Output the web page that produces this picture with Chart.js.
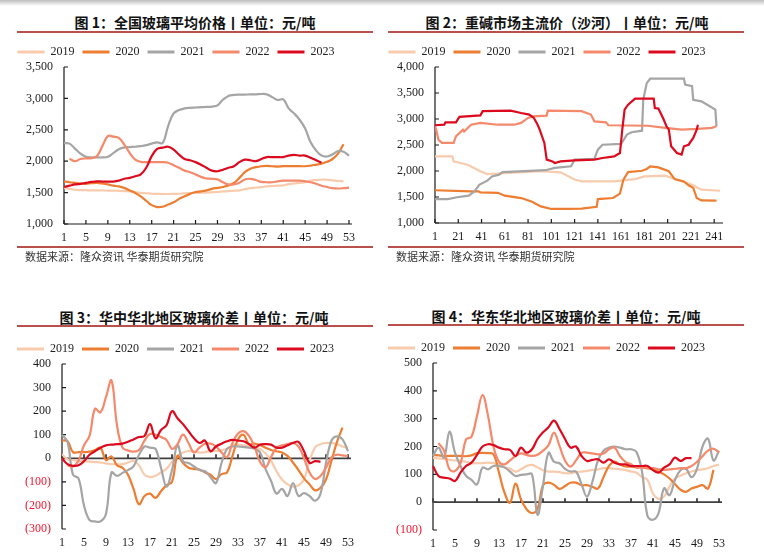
<!DOCTYPE html>
<html>
<head>
<meta charset="utf-8">
<script src="https://cdn.jsdelivr.net/npm/chart.js@4.4.0/dist/chart.umd.min.js"></script>
<style>
  body { margin: 0; width: 764px; height: 555px; background: #fff; position: relative; overflow: hidden; font-family: "Noto Sans CJK SC", sans-serif; }
  .shade { position: absolute; left: 0; top: 0; width: 764px; height: 6px; background: linear-gradient(#bdbdbd, #fff); }
  .title { position: absolute; width: 380px; line-height: 16px; font-weight: bold; font-size: 14px; color: #111; text-align: center; white-space: nowrap; }
  .rule { position: absolute; height: 2px; width: 356px; background: #b9504c; }
  .src { position: absolute; font-size: 11px; line-height: 15px; color: #333; white-space: nowrap; }
  canvas { position: absolute; }
</style>
</head>
<body>
<div class="shade"></div>

<div class="title" style="left:5px;top:14px">图 1：全国玻璃平均价格丨单位：元/吨</div>
<div class="rule" style="left:17px;top:31px"></div>
<canvas id="c1" width="382" height="212" style="left:3px;top:38px"></canvas>
<div class="rule" style="left:17px;top:246px"></div>
<div class="src" style="left:25px;top:249px">数据来源：隆众资讯 华泰期货研究院</div>

<div class="title" style="left:377px;top:14px">图 2：重碱市场主流价（沙河）丨单位：元/吨</div>
<div class="rule" style="left:388px;top:31px"></div>
<canvas id="c2" width="382" height="212" style="left:374px;top:38px"></canvas>
<div class="rule" style="left:388px;top:246px"></div>
<div class="src" style="left:396px;top:249px">数据来源：隆众资讯 华泰期货研究院</div>

<div class="title" style="left:4px;top:309px">图 3：华中华北地区玻璃价差丨单位：元/吨</div>
<div class="rule" style="left:17px;top:325px"></div>
<canvas id="c3" width="382" height="220" style="left:3px;top:335px"></canvas>

<div class="title" style="left:376px;top:308px">图 4：华东华北地区玻璃价差丨单位：元/吨</div>
<div class="rule" style="left:388px;top:324px"></div>
<canvas id="c4" width="382" height="221" style="left:374px;top:334px"></canvas>

<script>
// ---- data ----
const years = ['2019', '2020', '2021', '2022', '2023'];
const weeks = Array.from({ length: 53 }, (_, i) => i + 1);

// chart 1: national glass average price, weekly
const c1_2019 = [1575, 1560, 1545, 1540, 1538, 1535, 1535, 1535, 1532, 1530,
  1528, 1525, 1520, 1505, 1495, 1490, 1482, 1480, 1478, 1478,
  1480, 1482, 1488, 1493, 1495, 1498, 1500, 1505, 1510, 1518,
  1525, 1530, 1535, 1555, 1570, 1578, 1588, 1600, 1605, 1610,
  1615, 1635, 1645, 1655, 1665, 1690, 1700, 1705, 1705, 1695,
  1685, 1680];
const c1_2020 = [1680, 1665, 1655, 1645, 1640, 1650, 1655, 1645, 1630, 1610,
  1600, 1575, 1535, 1495, 1440, 1370, 1300, 1270, 1275, 1310,
  1345, 1400, 1440, 1480, 1510, 1520, 1535, 1560, 1575, 1590,
  1615, 1655, 1735, 1825, 1880, 1905, 1920, 1925, 1920, 1915,
  1920, 1920, 1920, 1920, 1920, 1930, 1945, 1960, 1990, 2035,
  2120, 2270];
const c1_2021 = [2290, 2280, 2200, 2120, 2070, 2060, 2060, 2060, 2070, 2130,
  2190, 2220, 2225, 2230, 2240, 2255, 2280, 2300, 2290, 2560,
  2760, 2815, 2840, 2850, 2855, 2860, 2865, 2870, 2890, 2980,
  3040, 3055, 3060, 3060, 3065, 3065, 3070, 3065, 3020, 2975,
  2985, 2840, 2760, 2660, 2520, 2300, 2170, 2090, 2075, 2110,
  2160, 2150, 2090];
const c1_2022 = [null, 2040, 2000, 2035, 2045, 2050, 2080, 2240, 2400, 2390,
  2370, 2265, 2130, 2025, 1990, 1985, 1985, 1985, 1985, 1975,
  1935, 1895, 1850, 1825, 1790, 1750, 1725, 1720, 1710, 1665,
  1630, 1630, 1655, 1710, 1720, 1700, 1670, 1665, 1665, 1680,
  1690, 1690, 1690, 1690, 1680, 1665, 1640, 1610, 1590, 1570,
  1565, 1570, 1580];
const c1_2023 = [1590, 1610, 1630, 1640, 1655, 1670, 1680, 1675, 1675, 1675,
  1690, 1720, 1735, 1760, 1790, 1895, 2080, 2195, 2215, 2230,
  2185, 2105, 2035, 2015, 1985, 1945, 1895, 1850, 1840, 1865,
  1895, 1920, 1985, 2025, 2015, 2000, 2035, 2065, 2065, 2065,
  2065, 2090, 2100, 2090, 2090, 2055, 2015, 1975];

// chart 2: heavy soda ash price (Shahe), daily, read at turning points
const c2Ticks = [1, 21, 41, 61, 81, 101, 121, 141, 161, 181, 201, 221, 241];
const c2Days2019 = [1, 16, 17, 29, 40, 46, 92, 109, 121, 127, 155, 173, 181, 199, 207, 222, 230, 246];
const c2Price2019 = [2280, 2280, 2185, 2120, 1995, 1940, 1995, 1975, 1835, 1800, 1800, 1845, 1895, 1910, 1845, 1735, 1640, 1620];
const c2Days2020 = [1, 32, 38, 40, 55, 61, 75, 84, 92, 101, 115, 127, 140, 141, 154, 160, 163, 167, 179, 183, 186, 193, 202, 207, 215, 219, 223, 226, 230, 243];
const c2Price2020 = [1630, 1610, 1610, 1590, 1580, 1525, 1480, 1415, 1320, 1270, 1270, 1275, 1310, 1460, 1480, 1565, 1835, 1980, 2005, 2040, 2090, 2070, 1995, 1845, 1800, 1725, 1675, 1480, 1435, 1430];
const c2Days2021 = [1, 12, 20, 30, 35, 39, 46, 50, 56, 59, 96, 104, 118, 121, 138, 141, 145, 161, 166, 170, 179, 180, 183, 186, 215, 216, 222, 223, 230, 235, 242, 243];
const c2Price2021 = [1460, 1460, 1495, 1525, 1610, 1735, 1815, 1895, 1930, 1980, 2015, 2060, 2090, 2220, 2235, 2410, 2505, 2520, 2700, 2745, 2775, 3370, 3690, 3775, 3775, 3660, 3630, 3370, 3340, 3275, 3180, 2860];
const c2Days2022 = [1, 2, 4, 7, 17, 19, 25, 26, 32, 40, 55, 69, 75, 81, 85, 97, 98, 127, 135, 138, 148, 150, 184, 199, 213, 227, 239, 243];
const c2Price2022 = [2860, 2795, 2600, 2540, 2540, 2665, 2795, 2760, 2890, 2925, 2890, 2890, 2925, 3020, 3050, 3065, 3160, 3150, 3085, 2955, 2935, 2880, 2870, 2830, 2795, 2810, 2830, 2860];
const c2Days2023 = [1, 9, 10, 19, 22, 40, 42, 66, 75, 82, 86, 89, 91, 95, 97, 102, 104, 109, 121, 138, 145, 155, 160, 162, 164, 167, 173, 189, 190, 193, 197, 200, 202, 204, 209, 213, 215, 219, 223, 226, 227];
const c2Price2023 = [2880, 2890, 2935, 2935, 3040, 3070, 3150, 3160, 3115, 3085, 3020, 2900, 2795, 2540, 2220, 2185, 2155, 2185, 2205, 2220, 2250, 2280, 2345, 2795, 3180, 3275, 3390, 3390, 3210, 3200, 3020, 2860, 2795, 2475, 2345, 2315, 2475, 2505, 2635, 2795, 2890];

// chart 3: central china minus north china spread
const c3_2019 = [17, -4, -8, -11, -12, -14, -16, -18, -22, -25,
  -25, -25, -18, -11, -30, -70, -80, -74, -60, -45,
  -15, 10, 25, 31, 28, 24, 26, 30, 31, 35,
  40, 55, 58, 55, 51, 45, 40, 20, -10, -55,
  -90, -110, -120, -115, -90, -10, 45, 60, 65, 65,
  60, 50, 44];
const c3_2020 = [76, 72, 26, 26, 26, 28, 35, 44, -8, 8,
  -30, -40, -70, -130, -195, -160, -150, -168, -140, -115,
  -100, 10, -20, -40, -45, -48, -60, -70, -88, -67,
  -60, 10, 80, 100, 60, 62, 55, 45, 35, 30,
  25, 10, -18, -50, -85, -110, -136, -125, -90, -10,
  70, 130];
const c3_2021 = [100, 70, -70, -85, -200, -262, -268, -268, -235, -60,
  -75, -62, -50, -34, 15, 50, 45, 40, -40, -120,
  -50, 55, -13, -20, -35, -50, -55, -80, -105, -20,
  40, 50, 50, 48, 45, 40, 25, -45, -95, -150,
  -130, -160, -105, -160, -148, -160, -180, -150, -20, 75,
  93, 80, 30];
const c3_2022 = [null, -30, -35, -10, 55, 95, 210, 195, 260, 330,
  140, 45, 33, 28, 35, 75, 103, 100, 90, 78,
  40, 60, 100, 65, 25, 45, 62, 62, 50, 25,
  5, 65, 105, 115, 95, 50, -15, -38, 5, 45,
  55, 60, 65, 50, 0, -60, -88, -75, -40, 5,
  15, 12, 10];
const c3_2023 = [0, -25, -32, -30, -12, 15, 30, 45, 55, 58,
  60, 62, 70, 80, 90, 95, 145, 85, 120, 140,
  200, 170, 145, 115, 85, 65, 75, 30, 50, 62,
  72, 78, 75, 72, 60, 45, 58, 60, 58, 45,
  45, 55, 65, 70, 30, -20, -12, -15];

// chart 4: east china minus north china spread
const c4_2019 = [160, 157, 155, 152, 150, 148, 145, 140, 140, 140,
  142, 140, 134, 125, 120, 110, 118, 130, 134, 125,
  115, 110, 110, 108, 104, 104, 108, 110, 112, 116,
  118, 122, 122, 120, 118, 115, 110, 106, 90, 80,
  30, 12, 20, 55, 85, 95, 104, 110, 115, 118,
  122, 130, 135];
const c4_2020 = [170, 168, 166, 166, 166, 166, 165, 168, 176, 177,
  176, 172, 106, 34, -2, 67, 10, -25, -39, -25,
  60, 70, 62, 48, 58, 70, 70, 61, 61, 55,
  49, 90, 130, 146, 135, 128, 128, 128, 128, 122,
  118, 110, 100, 85, 65, 45, 37, 49, 55, 61,
  49, 116];
const c4_2021 = [166, 196, 160, 253, 178, 130, 95, 80, 64, 124,
  118, 130, 130, 125, 110, 94, 98, 100, 100, -45,
  60, 178, 145, 140, 120, 110, 110, 65, 20, 75,
  150, 185, 196, 200, 196, 190, 190, 180, 110, -50,
  -63, -40, 50, 25, 80, 115, 120, 90, 120, 200,
  228, 150, 185];
const c4_2022 = [null, 212, 185, 118, 112, 140, 225, 235, 310, 385,
  311, 200, 145, 136, 150, 165, 175, 170, 166, 170,
  185, 205, 250, 202, 150, 128, 150, 177, 178, 175,
  172, 175, 190, 196, 165, 145, 136, 124, 124, 122,
  122, 118, 116, 118, 120, 122, 122, 130, 145, 165,
  185, 192, 178];
const c4_2023 = [130, 94, 88, 85, 76, 106, 130, 142, 170, 200,
  208, 205, 196, 190, 188, 166, 196, 178, 190, 227,
  251, 269, 293, 263, 227, 196, 200, 166, 148, 152,
  154, 142, 154, 142, 136, 136, 130, 130, 130, 130,
  115, 106, 124, 136, 160, 148, 158, 158];

// ---- styles ----
const colors = ['#F8CBAD', '#ED7D31', '#A5A5A5', '#F4896B', '#DC0A1E'];
const serif = '"Liberation Serif", "Times New Roman", serif';

// fixed legend height so the plot area lands where it should
const legendBox = {
  id: 'legendBox',
  beforeInit(chart, args, opts) {
    const fit = chart.legend.fit;
    chart.legend.fit = function () {
      fit.bind(chart.legend)();
      this.height = opts.height;
    };
  }
};

// axis lines with inside ticks, x axis sits on "base"
const axisMarks = {
  id: 'axisMarks',
  beforeDatasetsDraw(chart, args, opts) {
    const { ctx, chartArea: a, scales: { x, y } } = chart;
    const base = y.getPixelForValue(opts.base);
    ctx.save();
    ctx.strokeStyle = '#1a1a1a';
    ctx.lineWidth = 1.2;
    ctx.beginPath();
    ctx.moveTo(a.left, y.getPixelForValue(y.max));
    ctx.lineTo(a.left, y.getPixelForValue(y.min));
    y.ticks.forEach(t => {
      const py = y.getPixelForValue(t.value);
      ctx.moveTo(a.left, py);
      ctx.lineTo(a.left + 4, py);
    });
    ctx.stroke();
    ctx.strokeStyle = opts.color;
    ctx.lineWidth = opts.width;
    ctx.beginPath();
    ctx.moveTo(a.left, base);
    ctx.lineTo(a.right + 3, base);
    x.ticks.forEach((t, i) => {
      if (t.label === '') return;
      const px = x.getPixelForTick(i);
      ctx.moveTo(px, base);
      ctx.lineTo(px, base - 4);
    });
    ctx.stroke();
    ctx.restore();
  }
};

function fmt(v) {
  const s = Math.abs(v).toLocaleString('en-US');
  return v < 0 ? '(' + s + ')' : s;
}

function makeDatasets(series, tension) {
  return series.map((d, i) => ({
    label: years[i],
    data: d,
    borderColor: colors[i],
    backgroundColor: colors[i],
    borderWidth: 2.2,
    pointRadius: 0,
    tension: tension,
    order: 5 - i
  }));
}

function options(p) {
  return {
    responsive: false,
    animation: false,
    layout: { padding: { left: 0, right: p.padRight, top: 0, bottom: 0 } },
    plugins: {
      legend: {
        position: 'top',
        labels: {
          boxWidth: 27,
          boxHeight: 3,
          padding: 8,
          color: '#222',
          font: { family: serif, size: 12 },
          sort: (a, b) => a.datasetIndex - b.datasetIndex,
          generateLabels(chart) {
            return Chart.defaults.plugins.legend.labels.generateLabels(chart)
              .map(it => Object.assign(it, { lineWidth: 0 }));
          }
        }
      },
      legendBox: { height: 29 },
      tooltip: { enabled: false },
      axisMarks: { base: p.base, color: p.baseColor, width: p.baseWidth }
    },
    scales: {
      x: p.x,
      y: {
        min: p.min,
        max: p.max,
        grid: { display: false, drawTicks: false },
        border: { display: false },
        ticks: {
          stepSize: p.step,
          padding: 11,
          color: c => c.tick.value < 0 ? '#F0142D' : '#1a1a1a',
          font: { family: serif, size: 12 },
          callback: v => fmt(v)
        },
        afterFit(s) { s.width = p.yWidth; }
      }
    }
  };
}

function weekAxis(h) {
  return {
    type: 'category',
    grid: { display: false, drawTicks: false },
    border: { display: false },
    ticks: {
      autoSkip: false,
      maxRotation: 0,
      padding: 7,
      color: '#1a1a1a',
      font: { family: serif, size: 12 },
      callback: (v, i) => i % 4 === 0 ? String(weeks[i]) : ''
    },
    afterFit(s) { s.height = h; }
  };
}

// chart 1
new Chart(document.getElementById('c1'), {
  type: 'line',
  data: { labels: weeks, datasets: makeDatasets([c1_2019, c1_2020, c1_2021, c1_2022, c1_2023], 0.4) },
  options: options({ padRight: 36, yWidth: 61, min: 1000, max: 3500, step: 500, base: 1000, baseColor: '#1a1a1a', baseWidth: 1.2, x: weekAxis(26) }),
  plugins: [legendBox, axisMarks]
});

// chart 2
const pairs = (d, v) => d.map((x, i) => ({ x: x, y: v[i] }));
new Chart(document.getElementById('c2'), {
  type: 'line',
  data: {
    datasets: makeDatasets([
      pairs(c2Days2019, c2Price2019),
      pairs(c2Days2020, c2Price2020),
      pairs(c2Days2021, c2Price2021),
      pairs(c2Days2022, c2Price2022),
      pairs(c2Days2023, c2Price2023)
    ], 0)
  },
  options: options({
    padRight: 36, yWidth: 61, min: 1000, max: 4000, step: 500, base: 1000, baseColor: '#1a1a1a', baseWidth: 1.2,
    x: {
      type: 'linear',
      min: 1,
      max: 246,
      grid: { display: false, drawTicks: false },
      border: { display: false },
      afterBuildTicks(s) { s.ticks = c2Ticks.map(v => ({ value: v })); },
      ticks: { maxRotation: 0, padding: 7, color: '#1a1a1a', font: { family: serif, size: 12 }, callback: v => String(v) },
      afterFit(s) { s.height = 27; }
    }
  }),
  plugins: [legendBox, axisMarks]
});

// chart 3
new Chart(document.getElementById('c3'), {
  type: 'line',
  data: { labels: weeks, datasets: makeDatasets([c3_2019, c3_2020, c3_2021, c3_2022, c3_2023], 0.4) },
  options: options({ padRight: 37, yWidth: 59, min: -300, max: 400, step: 100, base: 0, baseColor: '#404040', baseWidth: 1.8, x: weekAxis(26) }),
  plugins: [legendBox, axisMarks]
});

// chart 4
new Chart(document.getElementById('c4'), {
  type: 'line',
  data: { labels: weeks, datasets: makeDatasets([c4_2019, c4_2020, c4_2021, c4_2022, c4_2023], 0.4) },
  options: options({ padRight: 37, yWidth: 59, min: -100, max: 500, step: 100, base: 0, baseColor: '#404040', baseWidth: 1.8, x: weekAxis(25) }),
  plugins: [legendBox, axisMarks]
});
</script>
</body>
</html>
